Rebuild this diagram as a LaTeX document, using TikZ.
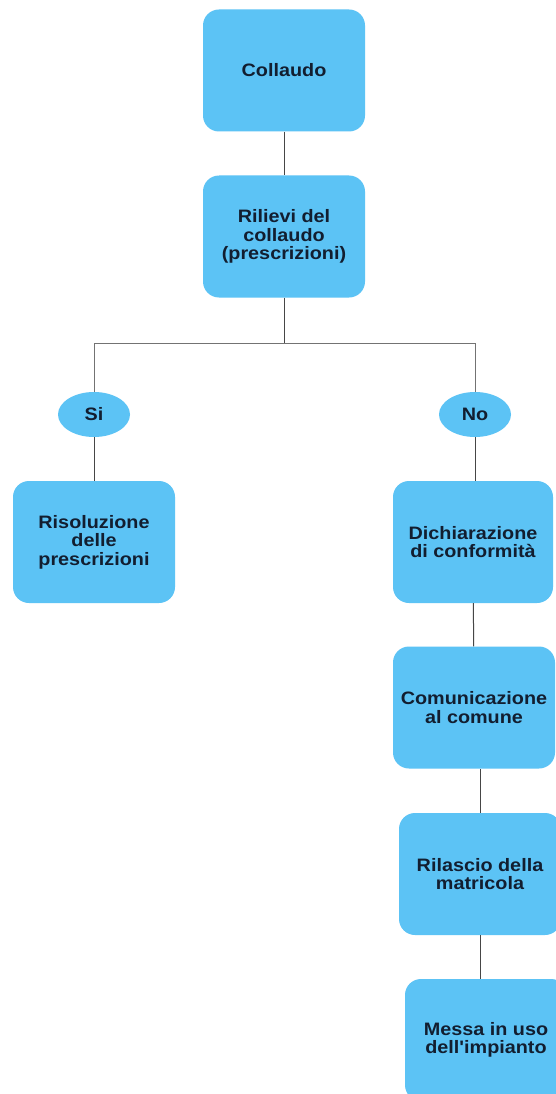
\documentclass[tikz,border=0pt]{standalone}
\usepackage{fontspec}
\setmainfont{Liberation Sans}[FakeStretch=1.1, Ligatures=TeXOff]
\usetikzlibrary{shapes.geometric}
\definecolor{boxblue}{RGB}{92,195,245}
\definecolor{ink}{RGB}{18,30,48}
\definecolor{wire}{RGB}{70,70,70}
\definecolor{busline}{RGB}{115,115,115}
\tikzset{
  stepbox/.style={rectangle, rounded corners=16pt, fill=boxblue, draw=none,
    minimum width=162pt, minimum height=122pt, inner sep=0pt,
    align=center, text=ink, font=\fontsize{18}{18.4}\selectfont\bfseries},
  choice/.style={ellipse, fill=boxblue, draw=none, minimum width=72pt,
    minimum height=45pt, inner sep=0pt, text=ink,
    font=\fontsize{18}{18.4}\selectfont\bfseries},
  wireline/.style={draw=wire, line width=1pt},
  busline/.style={draw=busline, line width=1pt}
}
\begin{document}
\begin{tikzpicture}[x=1pt,y=-1pt]
  \useasboundingbox (0,0) rectangle (556,1094);
  \fill[white] (0,0) rectangle (556,1094);

  % main column
  \node[stepbox] (col) at (284,70.5) {Collaudo};
  \node[stepbox] (ril) at (284,236.5) {Rilievi del\\collaudo\\(prescrizioni)};
  \coordinate (j) at (284,343);

  % the two outcomes
  \node[choice] (si) at (94,414.5) {Si};
  \node[choice] (no) at (475,414.5) {No};

  \node[stepbox] (ris) at (94,542) {Risoluzione\\delle\\prescrizioni};
  \node[stepbox, minimum width=160pt] (dic) at (473,542) {Dichiarazione\\di conformità};
  \node[stepbox] (com) at (474,707.5) {Comunicazione\\al comune};
  \node[stepbox] (rel) at (480,874) {Rilascio della\\matricola};
  \node[stepbox] (mes) at (486,1040) {Messa in uso\\dell'impianto};

  % connectors
  \draw[wireline] (col) -- (ril);
  \draw[wireline] (ril) -- (j);
  \draw[busline] (j) -| (si);
  \draw[busline] (j) -| (no);
  \draw[wireline] (si) -- (ris);
  \draw[wireline] (no.south) -- (no.south |- dic.north);
  \draw[wireline] (dic) -- (com);
  \draw[wireline] (rel.north) -- (rel.north |- com.south);
  \draw[wireline] (rel.south) -- (rel.south |- mes.north);
\end{tikzpicture}
\end{document}
